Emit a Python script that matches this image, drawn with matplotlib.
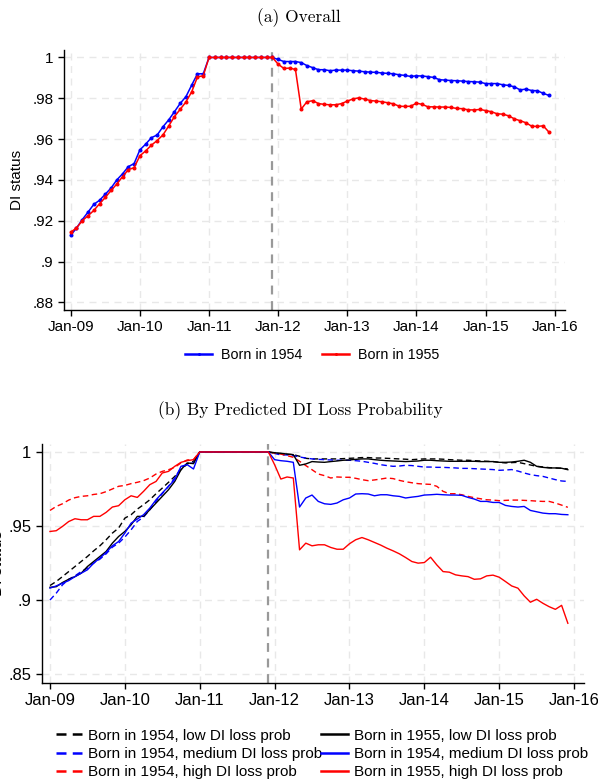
import matplotlib
matplotlib.use("Agg")
import matplotlib.pyplot as plt
import numpy as np

plt.rcParams['font.family'] = ['Liberation Sans', 'DejaVu Sans']

# months since Jan 2009
months = np.arange(84)
year_ticks = np.arange(0, 85, 12)
year_labels = ['Jan-09', 'Jan-10', 'Jan-11', 'Jan-12', 'Jan-13', 'Jan-14', 'Jan-15', 'Jan-16']
cutoff_month = 35

# (a) overall DI status by birth cohort
born54 = ([0.9128, 0.9164, 0.9205, 0.9242, 0.928, 0.930, 0.933, 0.936, 0.940, 0.943, 0.9465, 0.948,
           0.9547, 0.9575, 0.9607, 0.962, 0.966, 0.9694, 0.9734, 0.9775, 0.9808, 0.9865, 0.992, 0.992]
          + [1.0] * 12
          + [0.999, 0.998, 0.998, 0.998, 0.9975, 0.996, 0.995, 0.994, 0.994, 0.9935, 0.9938, 0.9938,
             0.9938, 0.9935, 0.9933, 0.993, 0.9928, 0.9927, 0.9924, 0.9922, 0.992, 0.9915, 0.9912, 0.9907,
             0.991, 0.9909, 0.9906, 0.9902, 0.9891, 0.9889, 0.9887, 0.9886, 0.9884, 0.9882, 0.9881, 0.9879,
             0.9872, 0.9872, 0.9872, 0.9866, 0.9863, 0.9856, 0.9841, 0.9845, 0.9838, 0.9837, 0.9824, 0.9814])
born55 = ([0.9144, 0.9164, 0.920, 0.9224, 0.925, 0.9283, 0.9314, 0.9348, 0.938, 0.9416, 0.945, 0.946,
           0.9518, 0.9542, 0.957, 0.9593, 0.962, 0.9664, 0.971, 0.9746, 0.9782, 0.9832, 0.9905, 0.991]
          + [1.0] * 12
          + [0.9967, 0.9946, 0.9948, 0.9941, 0.9747, 0.9783, 0.9788, 0.9774, 0.977, 0.9768, 0.9768, 0.9774,
             0.9786, 0.9797, 0.9802, 0.9796, 0.9789, 0.9786, 0.9783, 0.9778, 0.9773, 0.9761, 0.976, 0.9761,
             0.9776, 0.977, 0.9758, 0.9758, 0.9757, 0.9757, 0.9755, 0.975, 0.9749, 0.9743, 0.9743, 0.9745,
             0.974, 0.9734, 0.9724, 0.9722, 0.9714, 0.9699, 0.969, 0.968, 0.9663, 0.9662, 0.9665, 0.9634])

# (b) by predicted DI loss probability
low54 = ([0.9098, 0.9125, 0.9158, 0.9192, 0.9226, 0.926, 0.9294, 0.9332, 0.9366, 0.9407, 0.9452, 0.9486,
          0.9553, 0.9576, 0.9614, 0.9644, 0.9677, 0.9718, 0.9756, 0.9795, 0.9835, 0.988, 0.9919, 0.9937]
         + [1.0] * 12
         + [0.9991, 0.9989, 0.9984, 0.9982, 0.9971, 0.9957, 0.9953, 0.9953, 0.9953, 0.9953, 0.9953, 0.9955,
            0.9957, 0.9959, 0.9962, 0.9962, 0.9959, 0.9959, 0.9957, 0.9955, 0.9953, 0.9951, 0.9948, 0.9951,
            0.9953, 0.9953, 0.9953, 0.9951, 0.9948, 0.9946, 0.9944, 0.9944, 0.9941, 0.9939, 0.9937, 0.9935,
            0.993, 0.9926, 0.9928, 0.993, 0.9921, 0.9912, 0.9903, 0.9899, 0.9894, 0.9892, 0.989, 0.9885])
low55 = ([0.9086, 0.909, 0.9118, 0.914, 0.9158, 0.9181, 0.9226, 0.926, 0.9294, 0.9328, 0.9384, 0.9429,
          0.9463, 0.9508, 0.9565, 0.9565, 0.961, 0.9655, 0.97, 0.9745, 0.9801, 0.988, 0.9926, 0.9921]
         + [1.0] * 12
         + [0.9995, 0.9991, 0.9986, 0.9982, 0.991, 0.9919, 0.9935, 0.9932, 0.993, 0.9935, 0.9939, 0.9944,
            0.9946, 0.995, 0.9953, 0.9953, 0.9948, 0.9944, 0.9941, 0.9939, 0.9937, 0.9935, 0.9937, 0.9939,
            0.9944, 0.9944, 0.9941, 0.9939, 0.9937, 0.9937, 0.9937, 0.9937, 0.9937, 0.9935, 0.9935, 0.9935,
            0.993, 0.993, 0.9932, 0.9937, 0.9944, 0.993, 0.9903, 0.9896, 0.9892, 0.9892, 0.989, 0.988])
med54 = ([0.900, 0.9046, 0.9102, 0.914, 0.9163, 0.9192, 0.9215, 0.9249, 0.9276, 0.9312, 0.9357, 0.9384,
          0.9425, 0.9474, 0.9531, 0.956, 0.961, 0.9666, 0.9718, 0.9768, 0.9824, 0.9892, 0.9919, 0.9926]
         + [1.0] * 12
         + [0.999, 0.998, 0.998, 0.9975, 0.9966, 0.9959, 0.9953, 0.995, 0.9948, 0.9946, 0.9944, 0.9944,
            0.9944, 0.9941, 0.9937, 0.993, 0.9923, 0.9914, 0.9908, 0.9903, 0.9905, 0.991, 0.9908, 0.9903,
            0.9898, 0.9898, 0.9896, 0.9896, 0.9894, 0.9892, 0.9889, 0.9889, 0.9887, 0.9885, 0.9883, 0.9881,
            0.9876, 0.9878, 0.9881, 0.9871, 0.9858, 0.9847, 0.984, 0.9835, 0.9824, 0.9813, 0.9804, 0.9801])
med55 = ([0.908, 0.9095, 0.9113, 0.9131, 0.9158, 0.9181, 0.9204, 0.9249, 0.9283, 0.9321, 0.9366, 0.9395,
          0.9452, 0.9519, 0.9547, 0.9576, 0.9621, 0.9677, 0.9723, 0.9768, 0.9813, 0.9903, 0.9914, 0.9885]
         + [1.0] * 12
         + [0.9948, 0.9941, 0.9937, 0.993, 0.9628, 0.9689, 0.9709, 0.9666, 0.965, 0.9646, 0.9655, 0.9677,
            0.9689, 0.9716, 0.9718, 0.9716, 0.9704, 0.9711, 0.9711, 0.9704, 0.97, 0.9689, 0.9695, 0.97,
            0.9709, 0.9711, 0.9714, 0.9711, 0.9709, 0.9709, 0.9707, 0.9693, 0.9682, 0.9666, 0.9666, 0.9659,
            0.9659, 0.9639, 0.9632, 0.9628, 0.9632, 0.9605, 0.9596, 0.9587, 0.9583, 0.9583, 0.9578, 0.9576])
high54 = ([0.9605, 0.9632, 0.965, 0.9675, 0.9691, 0.970, 0.9704, 0.9713, 0.9718, 0.9732, 0.975, 0.9768,
           0.9774, 0.9786, 0.9795, 0.9806, 0.9824, 0.9851, 0.9869, 0.988, 0.9896, 0.9926, 0.9946, 0.9948]
          + [1.0] * 12
          + [0.9993, 0.9986, 0.9975, 0.9964, 0.9937, 0.9908, 0.988, 0.9851, 0.984, 0.9824, 0.9831, 0.9829,
             0.9829, 0.9822, 0.9813, 0.9806, 0.9811, 0.9817, 0.9824, 0.982, 0.9808, 0.9799, 0.9792, 0.9786,
             0.9783, 0.9781, 0.9768, 0.9734, 0.9718, 0.9718, 0.9711, 0.97, 0.9691, 0.9684, 0.9677, 0.9675,
             0.9671, 0.9673, 0.9675, 0.9675, 0.9673, 0.9671, 0.9668, 0.9666, 0.9666, 0.9655, 0.9641, 0.9626])
high55 = ([0.9463, 0.9468, 0.9497, 0.953, 0.9549, 0.9542, 0.9542, 0.9565, 0.9565, 0.9592, 0.9628, 0.9637,
           0.9677, 0.9704, 0.9693, 0.9734, 0.9779, 0.9801, 0.9858, 0.9869, 0.9903, 0.993, 0.9941, 0.9948]
          + [1.0] * 12
          + [0.9914, 0.9817, 0.9831, 0.9824, 0.9339, 0.9384, 0.9366, 0.9373, 0.9373, 0.9355, 0.9343, 0.9343,
             0.938, 0.9407, 0.9422, 0.9407, 0.9389, 0.9371, 0.935, 0.9332, 0.9312, 0.9287, 0.926, 0.9249,
             0.9253, 0.9289, 0.9237, 0.9192, 0.9188, 0.917, 0.9163, 0.9158, 0.914, 0.9143, 0.9163, 0.9168,
             0.9154, 0.9125, 0.9095, 0.908, 0.9028, 0.8985, 0.9005, 0.8978, 0.8955, 0.8937, 0.8964, 0.8843])

top_yticks = [0.88, 0.90, 0.92, 0.94, 0.96, 0.98, 1.0]
top_ylabels = ['.88', '.9', '.92', '.94', '.96', '.98', '1']
bot_yticks = [0.85, 0.90, 0.95, 1.0]
bot_ylabels = ['.85', '.9', '.95', '1']

grid_kw = dict(color='#e8e8e8', linewidth=1.0, linestyle=(0, (5, 4)), zorder=0)
dash = (0, (4, 2.5))


def style_axis(ax, yticks, ylabels, fs):
    for s in ['top', 'right']:
        ax.spines[s].set_visible(False)
    ax.spines['left'].set_linewidth(1.0)
    ax.spines['bottom'].set_linewidth(1.0)
    ax.set_xticks(year_ticks)
    ax.set_xticklabels(year_labels)
    ax.set_yticks(yticks)
    ax.set_yticklabels(ylabels)
    ax.tick_params(labelsize=fs, length=4, width=1.0, colors='black')
    for t in year_ticks:
        ax.axvline(t, **grid_kw)
    for t in yticks:
        ax.axhline(t, **grid_kw)
    ax.axvline(cutoff_month, color='#999999', linewidth=1.6, linestyle=(0, (4, 3)), zorder=1)


fig = plt.figure(figsize=(5.98, 7.83), dpi=100)

# panel (a)
ax1 = fig.add_axes([0.107, 0.604, 0.838, 0.332])
style_axis(ax1, top_yticks, top_ylabels, 11)
ax1.plot(months, born54, color='blue', linewidth=1.1, marker='o', markersize=1.9, label='Born in 1954', zorder=3)
ax1.plot(months, born55, color='red', linewidth=1.1, marker='o', markersize=1.9, label='Born in 1955', zorder=4)
ax1.set_xlim(-1.17, 85.8)
ax1.set_ylim(0.8762, 1.0036)
ax1.set_ylabel('DI status', fontsize=11, labelpad=6)
leg1 = ax1.legend(loc='center', bbox_to_anchor=(0.522, 0.546), bbox_transform=fig.transFigure, ncol=2,
                  frameon=False, fontsize=10.3, handlelength=1.9, columnspacing=1.4, handletextpad=0.6,
                  markerscale=0.6)
for h in leg1.get_lines():
    h.set_linewidth(1.8)
fig.text(0.5, 0.977, '(a) Overall', ha='center', va='center', fontsize=12.5, family='cmr10')

# panel (b)
ax2 = fig.add_axes([0.0697, 0.128, 0.907, 0.305])
style_axis(ax2, bot_yticks, bot_ylabels, 12)
ax2.plot(months, low54, color='black', linewidth=1.0, linestyle=dash, label='Born in 1954, low DI loss prob')
ax2.plot(months, med54, color='blue', linewidth=1.0, linestyle=dash, label='Born in 1954, medium DI loss prob')
ax2.plot(months, high54, color='red', linewidth=1.0, linestyle=dash, label='Born in 1954, high DI loss prob')
ax2.plot(months, low55, color='black', linewidth=1.0, label='Born in 1955, low DI loss prob')
ax2.plot(months, med55, color='blue', linewidth=1.0, label='Born in 1954, medium DI loss prob')
ax2.plot(months, high55, color='red', linewidth=1.0, label='Born in 1955, high DI loss prob')
ax2.set_xlim(-1.33, 85.6)
ax2.set_ylim(0.8441, 1.0054)
ax2.set_ylabel('DI status', fontsize=12)
ax2.yaxis.set_label_coords(-0.068, 0.5)
leg = ax2.legend(loc='center', bbox_to_anchor=(0.538, 0.037), bbox_transform=fig.transFigure, ncol=2,
                 frameon=False, fontsize=11, handlelength=1.75, columnspacing=-0.1, handletextpad=0.4,
                 labelspacing=0.28)
for h in leg.get_lines():
    h.set_linewidth(1.8)
fig.text(0.503, 0.475, '(b) By Predicted DI Loss Probability', ha='center', va='center', fontsize=12.5,
         family='cmr10')

fig.savefig('out.png', dpi=100)
